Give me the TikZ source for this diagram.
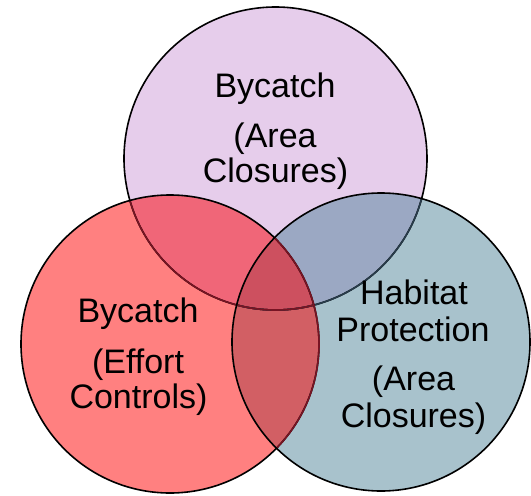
\documentclass[tikz,border=0pt]{standalone}
\usepackage{fontspec}
\setmainfont{Liberation Sans}
\definecolor{topc}{RGB}{230,205,235}
\definecolor{leftc}{RGB}{255,128,128}
\definecolor{rightc}{RGB}{168,194,204}
\definecolor{tlc}{RGB}{240,102,120}
\definecolor{trc}{RGB}{155,168,195}
\definecolor{lrc}{RGB}{210,95,100}
\definecolor{tlrc}{RGB}{205,80,95}
\definecolor{redline}{RGB}{120,20,35}
\definecolor{slateline}{RGB}{40,60,75}
\begin{document}
\begin{tikzpicture}[x=1pt,y=-1pt,
  lbl/.style={font=\fontsize{34}{36}\selectfont, anchor=base, inner sep=0pt},
  ring/.style={line width=1.6pt}]
\useasboundingbox (0,0) rectangle (531,496);
\def\topc{(275.5,158.5) circle[radius=151.5]}
\def\leftc{(170,344) circle[radius=149]}
\def\rightc{(381,342) circle[radius=149]}
% fills
\fill[topc] \topc;
\fill[leftc] \leftc;
\begin{scope}\clip \topc; \fill[tlc] \leftc; \end{scope}
\fill[rightc] \rightc;
\begin{scope}\clip \topc; \fill[trc] \rightc; \end{scope}
\begin{scope}\clip \leftc; \fill[lrc] \rightc; \end{scope}
\begin{scope}\clip \leftc; \clip \topc; \fill[tlrc] \rightc; \end{scope}
% outlines
\draw[ring,black] \topc;
\begin{scope}\clip \leftc; \draw[ring,redline] \topc; \end{scope}
\begin{scope}\clip \rightc; \draw[ring,slateline] \topc; \end{scope}
\begin{scope}\clip \rightc; \clip \leftc; \draw[ring,redline] \topc; \end{scope}
\draw[ring,black] \leftc;
\begin{scope}\clip \rightc; \draw[ring,redline] \leftc; \end{scope}
\draw[ring,black] \rightc;
% labels
\node[lbl] (t1) at (275,97) {Bycatch};
\node[lbl] (t2) at (275,147) {(Area};
\node[lbl] (t3) at (275.5,182) {Closures)};
\node[lbl] (l1) at (138,322) {Bycatch};
\node[lbl] (l2) at (138,373) {(Effort};
\node[lbl] (l3) at (138.5,408) {Controls)};
\node[lbl] (r1) at (414,304) {Habitat};
\node[lbl] (r2) at (413,341) {Protection};
\node[lbl] (r3) at (413.5,390) {(Area};
\node[lbl] (r4) at (413.5,427) {Closures)};
\end{tikzpicture}
\end{document}
